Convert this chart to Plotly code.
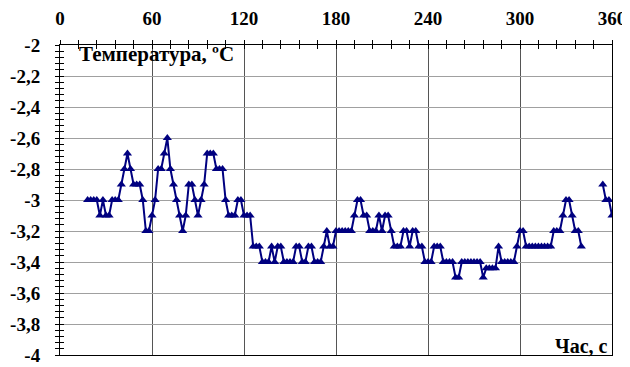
import plotly.graph_objects as go

# Time stamps (s): sampled every 2 s, gap between 340 and 354
time_s = list(range(18, 341, 2)) + [347, 354, 356, 358, 360]

temperature = [
    -3.0, -3.0, -3.0, -3.0, -3.1, -3.0, -3.1, -3.1, -3.0, -3.0,   # 18-36
    -3.0, -2.9, -2.8, -2.7, -2.8, -2.9, -2.9, -2.9, -3.0, -3.2,   # 38-56
    -3.2, -3.1, -3.0, -2.8, -2.8, -2.7, -2.6, -2.8, -2.9, -3.0,   # 58-76
    -3.1, -3.2, -3.1, -2.9, -2.9, -3.0, -3.1, -3.0, -2.9, -2.7,   # 78-96
    -2.7, -2.7, -2.8, -2.8, -2.8, -3.0, -3.1, -3.1, -3.1, -3.0,   # 98-116
    -3.0, -3.1, -3.1, -3.1, -3.3, -3.3, -3.3, -3.4, -3.4, -3.4,   # 118-136
    -3.3, -3.4, -3.3, -3.3, -3.4, -3.4, -3.4, -3.4, -3.3, -3.3,   # 138-156
    -3.4, -3.4, -3.3, -3.3, -3.4, -3.4, -3.4, -3.3, -3.2, -3.3,   # 158-176
    -3.3, -3.2, -3.2, -3.2, -3.2, -3.2, -3.2, -3.1, -3.0, -3.0,   # 178-196
    -3.1, -3.1, -3.2, -3.2, -3.2, -3.1, -3.2, -3.1, -3.1, -3.2,   # 198-216
    -3.3, -3.3, -3.3, -3.2, -3.2, -3.3, -3.2, -3.2, -3.3, -3.3,   # 218-236
    -3.4, -3.4, -3.4, -3.3, -3.3, -3.3, -3.4, -3.4, -3.4, -3.4,   # 238-256
    -3.5, -3.5, -3.4, -3.4, -3.4, -3.4, -3.4, -3.4, -3.4, -3.5,   # 258-276
    -3.44, -3.44, -3.44, -3.44, -3.3, -3.4, -3.4, -3.4, -3.4, -3.4,  # 278-296
    -3.3, -3.2, -3.2, -3.3, -3.3, -3.3, -3.3, -3.3, -3.3, -3.3,   # 298-316
    -3.3, -3.3, -3.2, -3.2, -3.2, -3.1, -3.0, -3.0, -3.1, -3.2,   # 318-336
    -3.2, -3.3,                                                   # 338-340
    None, -2.9, -3.0, -3.0, -3.1,                                 # gap, 354-360
]

x_ticks = [0, 60, 120, 180, 240, 300, 360]
x_ticklabels = ["0", "60", "120", "180", "240", "300", "360"]
y_ticks = [-2, -2.2, -2.4, -2.6, -2.8, -3, -3.2, -3.4, -3.6, -3.8, -4]
y_ticklabels = ["-2", "-2,2", "-2,4", "-2,6", "-2,8", "-3", "-3,2", "-3,4",
                "-3,6", "-3,8", "-4"]

y_title = "Температура, ºC"
x_title = "Час, с"

FONT = "Liberation Serif, Times New Roman, serif"
NAVY = "#000080"

fig = go.Figure()
fig.add_trace(go.Scatter(
    x=time_s, y=temperature, mode="lines+markers",
    line=dict(color=NAVY, width=2),
    marker=dict(symbol="triangle-up", size=8, color=NAVY),
    connectgaps=False, showlegend=False, hoverinfo="x+y",
))
# invisible trace to host the overlay axes that draw the inner half of the ticks
fig.add_trace(go.Scatter(x=[None], y=[None], xaxis="x2", yaxis="y2",
                         showlegend=False, hoverinfo="skip"))

tickfont = dict(family=FONT, size=19, color="black", weight="bold")

fig.update_layout(
    width=630, height=367,
    margin=dict(l=52, r=26, t=37, b=20),
    paper_bgcolor="white", plot_bgcolor="white",
    font=dict(family=FONT, color="black"),
    xaxis=dict(
        side="top", range=[0, 360], tickmode="array",
        tickvals=x_ticks, ticktext=x_ticklabels, tickfont=tickfont,
        showgrid=True, gridcolor="#555555", gridwidth=1,
        showline=True, linecolor="black", linewidth=1, mirror=True,
        ticks="outside", ticklen=4, tickcolor="black",
        minor=dict(dtick=12, ticks="outside", ticklen=4, tickcolor="black", showgrid=False),
        ticklabelstandoff=7, zeroline=False, fixedrange=True, automargin=False,
    ),
    yaxis=dict(
        range=[-4, -2], tickmode="array",
        tickvals=y_ticks, ticktext=y_ticklabels, tickfont=tickfont,
        showgrid=True, gridcolor="#a0a0a0", gridwidth=1,
        showline=True, linecolor="black", linewidth=1, mirror=True,
        ticks="outside", ticklen=4, tickcolor="black",
        minor=dict(dtick=0.04, ticks="outside", ticklen=4, tickcolor="black", showgrid=False),
        ticklabelstandoff=11, zeroline=False, fixedrange=True, automargin=False,
    ),
    xaxis2=dict(
        overlaying="x", side="top", range=[0, 360], showticklabels=False,
        showgrid=False, zeroline=False, ticks="inside", ticklen=4, dtick=60,
        tickcolor="black", automargin=False,
        minor=dict(dtick=12, ticks="inside", ticklen=4, tickcolor="black"),
    ),
    yaxis2=dict(
        overlaying="y", side="left", range=[-4, -2], showticklabels=False,
        showgrid=False, zeroline=False, ticks="inside", ticklen=4, dtick=0.2,
        tickcolor="black", automargin=False,
        minor=dict(dtick=0.04, ticks="inside", ticklen=4, tickcolor="black"),
    ),
    annotations=[
        dict(text="<b>" + y_title + "</b>", xref="x", yref="y", x=11, y=-2.055,
             xanchor="left", yanchor="middle", showarrow=False,
             font=dict(family=FONT, size=21, color="black")),
        dict(text="<b>" + x_title + "</b>", xref="x", yref="y", x=359, y=-3.945,
             xanchor="right", yanchor="middle", showarrow=False,
             font=dict(family=FONT, size=20, color="black")),
    ],
)

fig.write_html("out.html")
